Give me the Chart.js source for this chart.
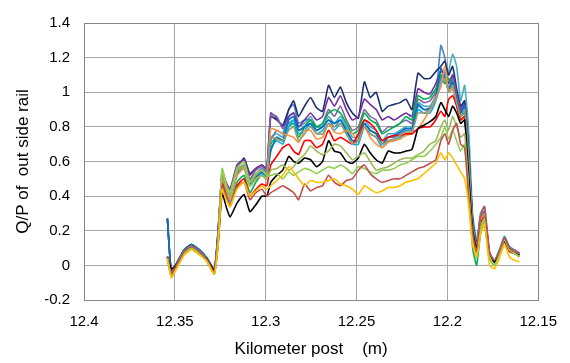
<!DOCTYPE html>
<html>
<head>
<meta charset="utf-8">
<script src="https://cdn.jsdelivr.net/npm/chart.js@4.4.1/dist/chart.umd.min.js"></script>
<style>
html,body{margin:0;padding:0;background:#fff;}
#wrap{width:570px;height:363px;}
</style>
</head>
<body>
<div id="wrap"><canvas id="c" width="570" height="363"></canvas></div>
<script>
// Kilometer post positions (km)
const km = [12.3541,12.3519,12.3486,12.3448,12.3409,12.3365,12.3322,12.3283,12.3262,12.3240,12.3218,12.3196,12.3158,12.3119,12.3087,12.3054,12.3021,12.2994,
12.2972,12.2939,12.2906,12.2873,12.2846,12.2819,12.2786,12.2753,12.2720,12.2687,12.2654,12.2622,12.2589,12.2556,12.2523,12.2490,12.2457,12.2425,12.2392,12.2359,12.2326,12.2293,12.2261,12.2228,12.2195,12.2162,12.2129,12.2096,12.2064,
12.2036,12.2014,12.1993,12.1971,12.1949,12.1927,12.1905,12.1883,12.1861,12.1839,12.1818,12.1796,12.1768,12.1741,12.1714,12.1686,12.1659,12.1632,12.1604];

const xTicks = [12.4,12.35,12.3,12.25,12.2,12.15];
const xTickLabels = ["12.4","12.35","12.3","12.25","12.2","12.15"];
const yTicks = [-0.2,0,0.2,0.4,0.6,0.8,1,1.2,1.4];
const yTickLabels = ["-0.2","0","0.2","0.4","0.6","0.8","1","1.2","1.4"];

const sNavy = [0.27,-0.04,0.02,0.09,0.12,0.09,0.04,-0.03,0.20,0.52,0.45,0.40,0.56,0.62,0.53,0.56,0.58,0.55,
0.86,0.84,0.81,0.90,0.95,0.86,0.92,0.97,0.91,0.89,1.04,0.97,1.03,0.94,0.88,0.85,1.06,0.97,1.00,0.89,0.92,0.93,0.94,0.96,0.90,1.11,1.08,1.08,1.12,
1.15,1.18,1.10,1.15,1.02,0.92,0.95,0.66,0.26,0.12,0.27,0.30,0.07,0.02,0.08,0.15,0.09,0.08,0.06];
const sPurple = [0.05,-0.05,0.01,0.08,0.11,0.08,0.03,-0.04,0.16,0.54,0.48,0.44,0.58,0.61,0.52,0.56,0.58,0.56,
0.88,0.85,0.80,0.86,0.88,0.80,0.84,0.88,0.84,0.86,0.97,0.92,0.98,0.90,0.84,0.86,0.96,0.93,0.90,0.84,0.86,0.84,0.86,0.88,0.86,1.02,1.00,0.99,1.05,
1.12,1.10,1.05,1.10,1.00,0.90,0.93,0.64,0.25,0.10,0.26,0.31,0.06,0.01,0.07,0.16,0.10,0.08,0.07];
const sLavender = [0.27,-0.04,0.02,0.09,0.12,0.09,0.04,-0.02,0.18,0.55,0.47,0.42,0.57,0.60,0.50,0.55,0.57,0.55,
0.87,0.86,0.79,0.82,0.84,0.78,0.80,0.84,0.80,0.82,0.90,0.86,0.92,0.84,0.78,0.80,0.90,0.86,0.84,0.77,0.80,0.80,0.82,0.84,0.82,0.96,0.94,0.95,1.00,
1.08,1.12,1.02,1.08,0.98,0.88,0.92,0.62,0.24,0.11,0.28,0.30,0.06,0.02,0.08,0.15,0.10,0.09,0.07];
const sGreen = [0.04,-0.06,0.00,0.07,0.10,0.07,0.03,-0.05,0.14,0.48,0.42,0.34,0.48,0.52,0.42,0.48,0.52,0.50,
0.70,0.74,0.72,0.80,0.82,0.74,0.80,0.84,0.80,0.82,0.88,0.90,0.88,0.82,0.76,0.78,0.88,0.84,0.82,0.76,0.78,0.80,0.82,0.86,0.84,0.98,0.96,0.97,1.02,
1.10,1.05,1.08,1.02,0.95,0.86,0.88,0.45,0.10,0.00,0.18,0.24,0.04,0.00,0.06,0.14,0.09,0.07,0.06];
const sTeal = [0.27,-0.05,0.02,0.09,0.12,0.09,0.04,-0.03,0.20,0.50,0.44,0.38,0.54,0.58,0.48,0.52,0.55,0.53,
0.74,0.76,0.74,0.86,0.88,0.80,0.82,0.86,0.80,0.80,0.86,0.82,0.86,0.80,0.74,0.74,0.84,0.80,0.78,0.72,0.76,0.76,0.78,0.80,0.80,0.94,0.92,0.92,0.98,
1.10,1.05,1.12,1.22,1.15,0.95,1.04,0.78,0.30,0.14,0.30,0.34,0.08,0.03,0.09,0.17,0.11,0.09,0.07];
const sBlue = [0.27,-0.04,0.02,0.09,0.12,0.09,0.04,-0.03,0.19,0.51,0.45,0.40,0.55,0.58,0.49,0.53,0.56,0.54,
0.72,0.78,0.76,0.90,0.93,0.82,0.84,0.84,0.78,0.80,0.84,0.80,0.84,0.78,0.72,0.73,0.82,0.78,0.76,0.70,0.74,0.74,0.76,0.78,0.78,0.92,0.90,0.90,0.98,
1.27,1.20,1.05,1.10,0.98,0.90,0.95,0.68,0.27,0.12,0.28,0.31,0.07,0.02,0.08,0.15,0.10,0.08,0.07];
const sSky = [0.05,-0.05,0.01,0.08,0.11,0.08,0.03,-0.04,0.16,0.49,0.43,0.37,0.52,0.56,0.46,0.50,0.53,0.51,
0.68,0.72,0.70,0.80,0.84,0.76,0.78,0.82,0.76,0.78,0.82,0.78,0.82,0.76,0.70,0.70,0.80,0.76,0.74,0.68,0.72,0.72,0.74,0.76,0.76,0.90,0.88,0.88,0.95,
1.05,1.10,1.00,1.05,0.94,0.86,0.90,0.60,0.22,0.08,0.26,0.30,0.05,0.00,0.07,0.15,0.09,0.08,0.06];
const sMidBlue = [0.27,-0.04,0.02,0.09,0.12,0.09,0.04,-0.03,0.18,0.50,0.44,0.39,0.53,0.57,0.47,0.51,0.54,0.52,
0.66,0.74,0.72,0.84,0.86,0.78,0.80,0.82,0.78,0.80,0.84,0.82,0.84,0.78,0.72,0.72,0.82,0.78,0.76,0.70,0.74,0.75,0.77,0.79,0.79,0.93,0.90,0.91,0.97,
1.14,1.08,1.02,1.06,0.96,0.88,0.92,0.63,0.25,0.11,0.27,0.30,0.06,0.02,0.08,0.15,0.10,0.08,0.07];
const sOrange = [0.05,-0.05,0.01,0.08,0.11,0.08,0.03,-0.04,0.15,0.50,0.44,0.38,0.52,0.56,0.46,0.50,0.52,0.50,
0.79,0.78,0.76,0.75,0.74,0.71,0.78,0.78,0.73,0.74,0.82,0.77,0.76,0.78,0.76,0.72,0.80,0.74,0.70,0.68,0.71,0.72,0.73,0.75,0.76,0.79,0.84,0.90,0.97,
1.03,1.15,1.00,1.02,0.92,0.84,0.86,0.58,0.22,0.09,0.26,0.30,0.05,0.00,0.07,0.15,0.09,0.08,0.06];
const sRed = [0.05,-0.05,0.00,0.07,0.10,0.07,0.03,-0.04,0.14,0.47,0.40,0.34,0.46,0.50,0.40,0.44,0.47,0.46,
0.58,0.63,0.68,0.70,0.66,0.64,0.72,0.72,0.68,0.70,0.78,0.72,0.74,0.72,0.70,0.76,0.84,0.82,0.78,0.72,0.74,0.75,0.75,0.76,0.76,0.79,0.80,0.80,0.84,
0.89,0.86,0.96,0.98,0.92,0.84,0.86,0.55,0.20,0.08,0.24,0.28,0.05,0.01,0.06,0.14,0.08,0.07,0.05];
const sKhaki = [0.05,-0.05,0.01,0.08,0.11,0.08,0.03,-0.04,0.15,0.52,0.46,0.40,0.55,0.58,0.48,0.52,0.55,0.53,
0.74,0.73,0.72,0.78,0.80,0.72,0.76,0.80,0.76,0.76,0.82,0.80,0.82,0.76,0.70,0.72,0.80,0.76,0.74,0.70,0.72,0.73,0.75,0.77,0.77,0.88,0.88,0.90,0.96,
1.05,1.08,1.00,1.04,0.94,0.86,0.90,0.60,0.23,0.10,0.27,0.30,0.06,0.01,0.07,0.15,0.10,0.08,0.06];
const sBlack = [0.05,-0.02,0.01,0.07,0.10,0.07,0.03,-0.03,0.12,0.42,0.34,0.28,0.36,0.41,0.31,0.35,0.40,0.40,
0.48,0.52,0.55,0.63,0.60,0.59,0.62,0.61,0.57,0.60,0.72,0.66,0.65,0.60,0.59,0.62,0.70,0.65,0.61,0.59,0.66,0.65,0.65,0.66,0.67,0.79,0.81,0.83,0.86,
0.94,0.90,0.86,0.92,0.88,0.82,0.84,0.52,0.20,0.10,0.20,0.26,0.06,0.02,0.07,0.14,0.09,0.07,0.06];
const sOlive = [0.04,-0.07,-0.01,0.07,0.10,0.07,0.02,-0.05,0.14,0.55,0.46,0.40,0.54,0.57,0.46,0.50,0.52,0.50,
0.55,0.56,0.58,0.55,0.57,0.61,0.64,0.69,0.66,0.64,0.66,0.70,0.69,0.65,0.61,0.63,0.65,0.60,0.55,0.56,0.57,0.59,0.61,0.62,0.62,0.64,0.66,0.70,0.72,
0.80,0.84,0.78,0.86,0.80,0.74,0.76,0.45,0.15,0.04,0.22,0.27,0.05,0.00,0.06,0.15,0.09,0.07,0.05];
const sLime = [0.04,-0.06,0.00,0.07,0.10,0.07,0.02,-0.05,0.14,0.56,0.47,0.42,0.56,0.60,0.48,0.53,0.55,0.52,
0.52,0.53,0.50,0.54,0.52,0.54,0.56,0.55,0.53,0.55,0.57,0.56,0.58,0.56,0.53,0.57,0.56,0.54,0.53,0.55,0.55,0.56,0.58,0.59,0.61,0.63,0.63,0.66,0.70,
0.74,0.80,0.73,0.78,0.72,0.66,0.70,0.42,0.12,0.05,0.20,0.26,0.05,0.00,0.06,0.15,0.09,0.07,0.05];
const sBrick = [0.05,-0.05,0.01,0.08,0.11,0.08,0.03,-0.04,0.14,0.46,0.40,0.35,0.45,0.48,0.38,0.42,0.44,0.40,
0.42,0.44,0.46,0.44,0.42,0.38,0.47,0.43,0.45,0.46,0.52,0.48,0.46,0.49,0.50,0.55,0.58,0.53,0.50,0.48,0.49,0.50,0.50,0.52,0.54,0.56,0.57,0.59,0.61,
0.72,0.76,0.70,0.78,0.82,0.70,0.68,0.40,0.18,0.08,0.28,0.34,0.07,0.03,0.08,0.16,0.10,0.08,0.07];
const sGold = [0.04,-0.07,-0.01,0.06,0.09,0.06,0.02,-0.05,0.12,0.44,0.38,0.34,0.44,0.48,0.40,0.43,0.46,0.44,
0.46,0.49,0.52,0.57,0.54,0.50,0.46,0.49,0.48,0.48,0.49,0.50,0.47,0.46,0.44,0.41,0.46,0.44,0.42,0.43,0.45,0.45,0.46,0.48,0.49,0.50,0.53,0.56,0.59,
0.65,0.61,0.65,0.62,0.58,0.54,0.50,0.35,0.12,0.05,0.18,0.24,0.00,-0.02,0.04,0.12,0.05,0.03,0.02];

const seriesList = [
  {v: sGold, c: '#FFC000'},
  {v: sBrick, c: '#C0504D'},
  {v: sLime, c: '#92D050'},
  {v: sOlive, c: '#9BBB59'},
  {v: sBlack, c: '#000000'},
  {v: sKhaki, c: '#A09B6B'},
  {v: sRed, c: '#FF0000'},
  {v: sOrange, c: '#F79646'},
  {v: sMidBlue, c: '#0070C0'},
  {v: sSky, c: '#00B0F0'},
  {v: sGreen, c: '#00B050'},
  {v: sLavender, c: '#8064A2'},
  {v: sPurple, c: '#7030A0'},
  {v: sNavy, c: '#1B2F6E'},
  {v: sBlue, c: '#4F81BD'},
  {v: sTeal, c: '#4BACC6'}
];

const datasets = seriesList.map(s => ({
  data: s.v.map((y, i) => ({x: km[i], y: y})),
  borderColor: s.c,
  backgroundColor: s.c,
  borderWidth: 1.6,
  pointRadius: 0,
  tension: 0.15,
  fill: false
}));

const frame = {
  id: 'frame',
  afterDraw(chart) {
    const a = chart.chartArea, ctx = chart.ctx;
    ctx.save();
    ctx.strokeStyle = '#868686';
    ctx.lineWidth = 1;
    ctx.strokeRect(Math.round(a.left) + 0.5, Math.round(a.top) + 0.5, Math.round(a.right - a.left), Math.round(a.bottom - a.top));
    ctx.restore();
  }
};

const font = {family: "'Liberation Sans', Arial, sans-serif", size: 15};

new Chart(document.getElementById('c'), {
  type: 'line',
  data: {datasets},
  options: {
    responsive: false,
    animation: false,
    layout: {padding: {top: 16, right: 29, left: 0, bottom: 0}},
    plugins: {legend: {display: false}, tooltip: {enabled: false}},
    scales: {
      x: {
        type: 'linear',
        reverse: true,
        min: 12.15, max: 12.4,
        afterBuildTicks: s => { s.ticks = xTicks.map(v => ({value: v})); },
        afterFit: s => { s.height = 63; },
        ticks: {
          font, color: '#000', padding: 13, maxRotation: 0, autoSkip: false,
          callback: (v) => { const i = xTicks.findIndex(t => Math.abs(t - v) < 1e-6); return i >= 0 ? xTickLabels[i] : ''; }
        },
        grid: {color: '#A6A6A6', drawTicks: false, lineWidth: 1},
        border: {color: '#868686'},
        title: {display: true, text: 'Kilometer post    (m)', color: '#000', font: {family: font.family, size: 17}, padding: {top: 4, bottom: 3}}
      },
      y: {
        min: -0.2, max: 1.4,
        afterBuildTicks: s => { s.ticks = yTicks.map(v => ({value: v})); },
        afterFit: s => { s.width = 84; },
        ticks: {
          font, color: '#000', padding: 14,
          callback: (v) => { const i = yTicks.findIndex(t => Math.abs(t - v) < 1e-6); return i >= 0 ? yTickLabels[i] : ''; }
        },
        grid: {color: '#A6A6A6', drawTicks: false, lineWidth: 1},
        border: {color: '#868686'},
        title: {display: true, text: 'Q/P of  out side rail', color: '#000', font: {family: font.family, size: 17}, padding: {top: 13, bottom: 4}}
      }
    }
  },
  plugins: [frame]
});
</script>
</body>
</html>
